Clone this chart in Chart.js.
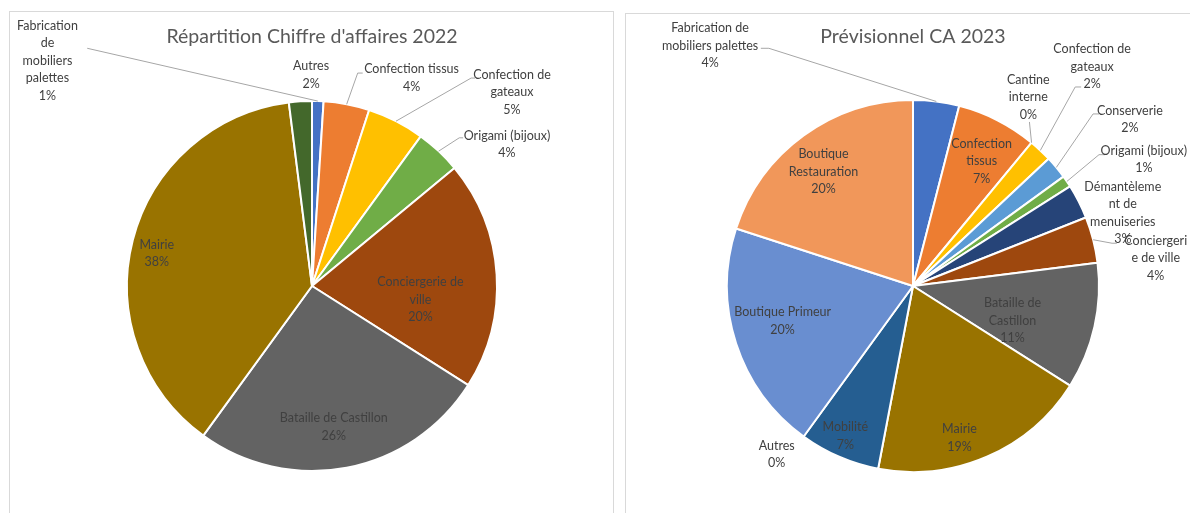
<!DOCTYPE html>
<html lang="fr">
<head>
<meta charset="utf-8">
<title>Répartition CA 2022 / Prévisionnel 2023</title>
<script src="https://cdn.jsdelivr.net/npm/chart.js@4/dist/chart.umd.min.js"></script>
<style>
  html, body {
    margin: 0;
    padding: 0;
    background: #ffffff;
  }
  body {
    position: relative;
    width: 1190px;
    height: 513px;
    overflow: hidden;
  }
  .frame {
    position: absolute;
    border: 1px solid #d9d9d9;
    box-sizing: border-box;
  }
  #frame-2022 { left: 9px; top: 11px; width: 605px; height: 530px; }
  #frame-2023 { left: 625px; top: 13px; width: 600px; height: 530px; }
  canvas { position: absolute; top: 0; }
  #chart-2022 { left: 0; }
  #chart-2023 { left: 615px; }
</style>
</head>
<body>
<div class="frame" id="frame-2022"></div>
<div class="frame" id="frame-2023"></div>
<canvas id="chart-2022" width="615" height="513"></canvas>
<canvas id="chart-2023" width="575" height="513"></canvas>

<script>
// 2022 - actual revenue split (%)
const categories2022 = [
  "Fabrication de mobiliers palettes",
  "Confection tissus",
  "Confection de gateaux",
  "Origami (bijoux)",
  "Conciergerie de ville",
  "Bataille de Castillon",
  "Mairie",
  "Autres",
];
const values2022 = [1, 4, 5, 4, 20, 26, 38, 2];

// 2023 - forecast (%)
const categories2023 = [
  "Fabrication de mobiliers palettes",
  "Confection tissus",
  "Cantine interne",
  "Confection de gateaux",
  "Conserverie",
  "Origami (bijoux)",
  "Démantèlement de menuiseries",
  "Conciergerie de ville",
  "Bataille de Castillon",
  "Mairie",
  "Mobilité",
  "Autres",
  "Boutique Primeur",
  "Boutique Restauration",
];
const values2023 = [4, 7, 0, 2, 2, 1, 3, 4, 11, 19, 7, 0, 20, 20];

const colors2022 = ["#4472c4", "#ed7d31", "#ffc000", "#70ad47", "#9e480e", "#636363", "#997300", "#43682b"];
const colors2023 = [
  "#4472c4", "#ed7d31", "#a5a5a5", "#ffc000", "#5b9bd5", "#70ad47", "#264478",
  "#9e480e", "#636363", "#997300", "#255e91", "#43682b", "#698ed0", "#f1975a",
];

// label placement, in units of the pie radius from its centre
// at = centre of text block, leader = [ax, ay, bx, by] start + elbow
const labels2022 = [
  { lines: ["Fabrication", "de", "mobiliers", "palettes"], at: [-1.43, -1.218], leader: [-1.215, -1.285, -1.215, -1.285] },
  { lines: ["Confection tissus"], at: [0.538, -1.124], leader: [0.274, -1.151, 0.247, -1.151] },
  { lines: ["Confection de", "gateaux"], at: [1.081, -1.048], leader: [0.882, -1.124, 0.86, -1.124] },
  { lines: ["Origami (bijoux)"], at: [1.054, -0.766], leader: [0.817, -0.801, 0.796, -0.801] },
  { lines: ["Conciergerie de", "ville"], at: [0.586, 0.073] },
  { lines: ["Bataille de Castillon"], at: [0.118, 0.761] },
  { lines: ["Mairie"], at: [-0.839, -0.175] },
  { lines: ["Autres"], at: [-0.005, -1.142] },
];

const labels2023 = [
  { lines: ["Fabrication de", "mobiliers palettes"], at: [-1.091, -1.291], leader: [-0.818, -1.278, -0.775, -1.278] },
  { lines: ["Confection", "tissus"], at: [0.369, -0.671] },
  { lines: ["Cantine", "interne"], at: [0.62, -1.016], leader: [0.626, -0.882, 0.626, -0.882] },
  { lines: ["Confection de", "gateaux"], at: [0.963, -1.179], leader: [0.904, -1.07, 0.872, -1.07] },
  { lines: ["Conserverie"], at: [1.166, -0.896], leader: [1.0, -0.925, 0.968, -0.925] },
  { lines: ["Origami (bijoux)"], at: [1.241, -0.679], leader: [1.032, -0.706, 1.0, -0.706] },
  { lines: ["Démantèleme", "nt de", "menuiseries"], at: [1.128, -0.393] },
  { lines: ["Conciergeri", "e de ville"], at: [1.305, -0.15], leader: [1.096, -0.23, 1.07, -0.23] },
  { lines: ["Bataille de", "Castillon"], at: [0.535, 0.187] },
  { lines: ["Mairie"], at: [0.25, 0.816] },
  { lines: ["Mobilité"], at: [-0.364, 0.805] },
  { lines: ["Autres"], at: [-0.733, 0.906] },
  { lines: ["Boutique Primeur"], at: [-0.701, 0.187] },
  { lines: ["Boutique", "Restauration"], at: [-0.481, -0.615] },
];

const FONT = "Lato, 'Open Sans', sans-serif";

// Excel-like data labels: name + percentage, with leader lines
const sliceLabels = {
  id: "sliceLabels",
  afterDatasetsDraw(chart, args, opts) {
    const { ctx } = chart;
    const data = chart.data.datasets[0].data;
    const total = data.reduce((a, b) => a + b, 0);
    const meta = chart.getDatasetMeta(0);

    ctx.save();
    meta.data.forEach((arc, i) => {
      const spec = opts.layout[i];
      if (!spec) return;
      const { x, y, outerRadius: r, startAngle, endAngle } = arc.getProps(
        ["x", "y", "outerRadius", "startAngle", "endAngle"],
        true
      );
      const mid = (startAngle + endAngle) / 2;

      if (spec.leader) {
        const [ax, ay, bx, by] = spec.leader;
        ctx.strokeStyle = "#a6a6a6";
        ctx.lineWidth = 1;
        ctx.beginPath();
        ctx.moveTo(x + ax * r, y + ay * r);
        ctx.lineTo(x + bx * r, y + by * r);
        ctx.lineTo(x + Math.cos(mid) * r, y + Math.sin(mid) * r);
        ctx.stroke();
      }

      const pct = `${Math.round((data[i] / total) * 100)}%`;
      const lines = [...spec.lines, pct];
      const lh = 17.5;
      const cx = x + spec.at[0] * r;
      const cy = y + spec.at[1] * r - ((lines.length - 1) * lh) / 2;
      ctx.fillStyle = "#404040";
      ctx.font = `12.5px ${FONT}`;
      ctx.textAlign = "center";
      ctx.textBaseline = "middle";
      lines.forEach((line, k) => ctx.fillText(line, cx, cy + k * lh));
    });
    ctx.restore();
  },
};

const buildPie = (canvasId, title, categories, values, colors, layout, padding) =>
  new Chart(document.getElementById(canvasId), {
    type: "pie",
    data: {
      labels: categories,
      datasets: [
        {
          data: values,
          backgroundColor: colors,
          borderColor: "#ffffff",
          borderWidth: 2,
        },
      ],
    },
    options: {
      responsive: false,
      animation: false,
      layout: { padding },
      plugins: {
        legend: { display: false },
        tooltip: { enabled: false },
        title: {
          display: true,
          text: title,
          color: "#595959",
          font: { family: FONT, size: 19.5, weight: "normal", lineHeight: 1.2 },
          padding: { top: 25.5, bottom: padding.titleGap },
        },
        sliceLabels: { layout },
      },
    },
    plugins: [sliceLabels],
  });

const draw = () => {
  buildPie("chart-2022", "Répartition Chiffre d'affaires 2022", categories2022, values2022, colors2022, labels2022,
    { top: 0, left: 126, right: 117, bottom: 41, titleGap: 51.1 });
  buildPie("chart-2023", "Prévisionnel CA 2023", categories2023, values2023, colors2023, labels2023,
    { top: 0, left: 111, right: 90, bottom: 40, titleGap: 50.1 });
};

if (document.fonts && document.fonts.load) {
  Promise.all([document.fonts.load("12px Lato"), document.fonts.load("19px Lato")])
    .then(draw, draw);
} else {
  draw();
}
</script>
</body>
</html>
